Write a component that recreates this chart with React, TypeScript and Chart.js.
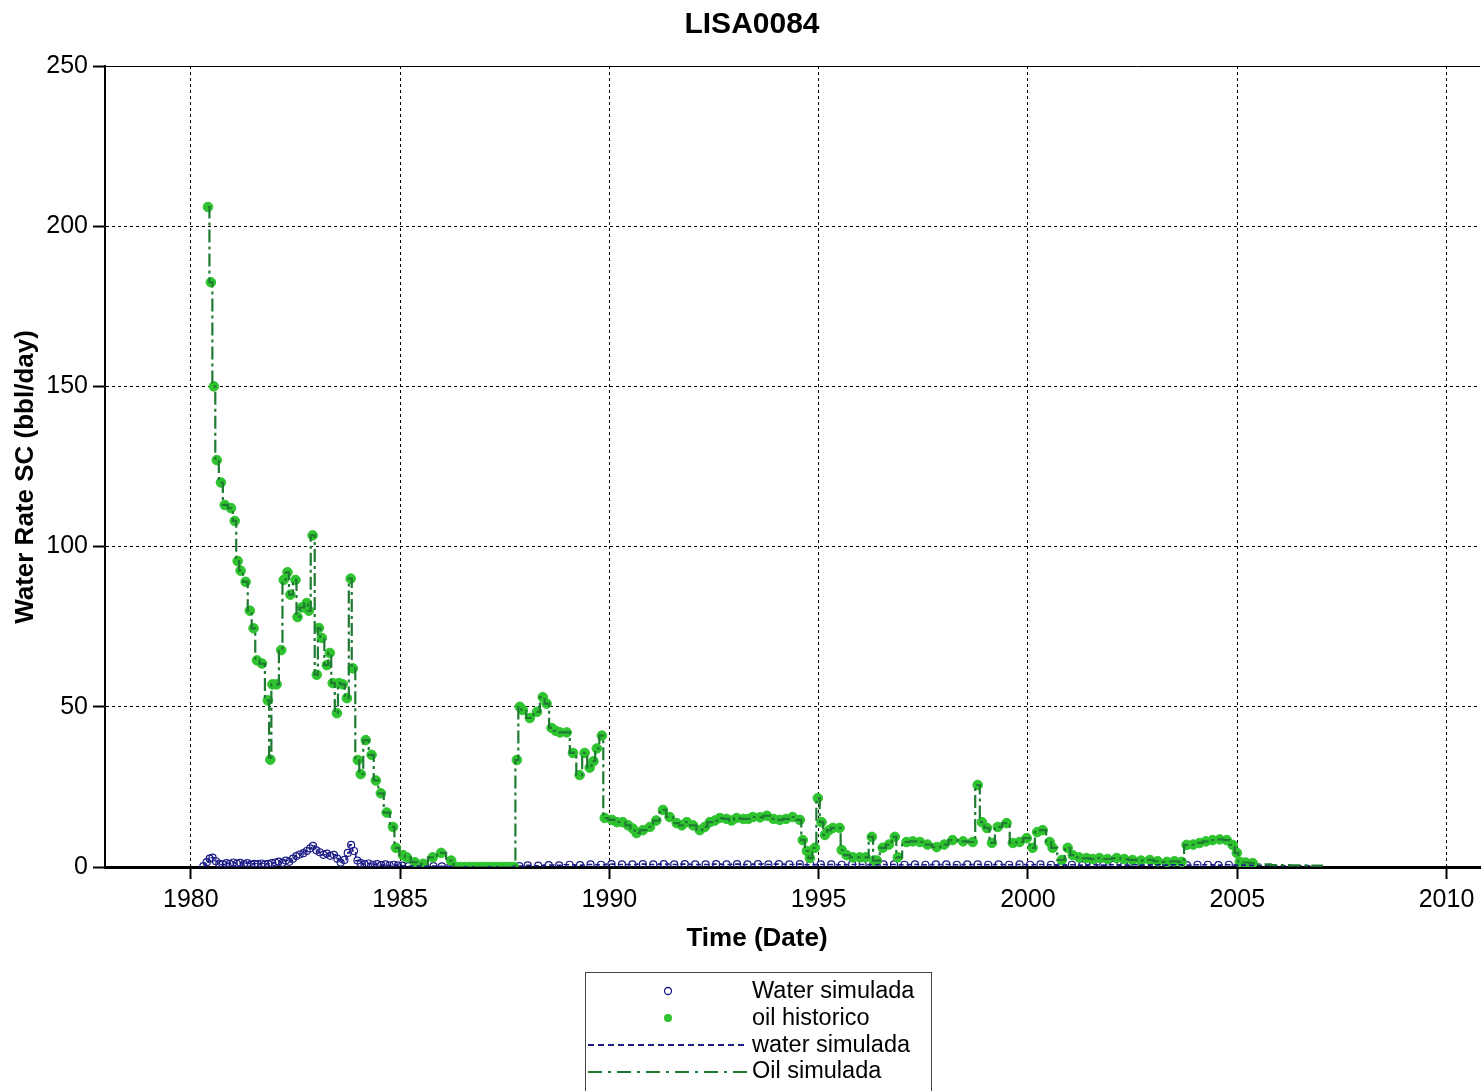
import React, { useEffect, useRef } from "react";
import { Chart, registerables } from "chart.js";

Chart.register(...registerables);

// ---------- data ----------
const chartTitle = "LISA0084";
const xAxisTitle = "Time (Date)";
const yAxisTitle = "Water Rate SC (bbl/day)";
const xTicks = [1980, 1985, 1990, 1995, 2000, 2005, 2010];
const yTicks = [0, 50, 100, 150, 200, 250];
const legendLabels = ["Water simulada", "oil historico", "water simulada", "Oil simulada"];

const oilHistYears = [
  1980.41, 1980.48, 1980.55, 1980.62, 1980.72, 1980.81, 1980.96, 1981.05, 1981.12, 1981.19,
  1981.31, 1981.41, 1981.5, 1981.58, 1981.7, 1981.84, 1981.9, 1981.95, 1982.05, 1982.16,
  1982.22, 1982.31, 1982.38, 1982.5, 1982.55, 1982.65, 1982.77, 1982.82, 1982.91, 1983.01,
  1983.06, 1983.13, 1983.25, 1983.32, 1983.39, 1983.49, 1983.54, 1983.63, 1983.73, 1983.82,
  1983.87, 1983.99, 1984.06, 1984.18, 1984.32, 1984.42, 1984.54, 1984.68, 1984.83, 1984.9,
  1985.07, 1985.16, 1985.35, 1985.55, 1985.78, 1985.98, 1986.22, 1986.35, 1986.45, 1986.55,
  1986.65, 1986.75, 1986.85, 1986.95, 1987.05, 1987.15, 1987.25, 1987.35, 1987.45, 1987.55,
  1987.65, 1987.72, 1987.79, 1987.86, 1987.93, 1988.1, 1988.27, 1988.41, 1988.5, 1988.62,
  1988.72, 1988.82, 1988.98, 1989.13, 1989.29, 1989.41, 1989.53, 1989.62, 1989.7, 1989.82,
  1989.89, 1990.06, 1990.18, 1990.32, 1990.45, 1990.56, 1990.65, 1990.8, 1990.97, 1991.12,
  1991.28, 1991.44, 1991.61, 1991.73, 1991.85, 1992.0, 1992.16, 1992.28, 1992.4, 1992.52,
  1992.64, 1992.8, 1992.92, 1993.04, 1993.2, 1993.32, 1993.43, 1993.6, 1993.76, 1993.92,
  1994.07, 1994.22, 1994.38, 1994.55, 1994.62, 1994.72, 1994.79, 1994.91, 1994.98, 1995.07,
  1995.15, 1995.25, 1995.34, 1995.5, 1995.55, 1995.67, 1995.82, 1995.98, 1996.12, 1996.27,
  1996.33, 1996.39, 1996.53, 1996.68, 1996.82, 1996.89, 1997.1, 1997.25, 1997.42, 1997.6,
  1997.82, 1998.0, 1998.2, 1998.45, 1998.68, 1998.8, 1998.9, 1999.02, 1999.14, 1999.28,
  1999.49, 1999.64, 1999.8, 1999.97, 2000.11, 2000.22, 2000.35, 2000.52, 2000.59, 2000.81,
  2000.95, 2001.07, 2001.22, 2001.4, 2001.55, 2001.71, 2001.9, 2002.12, 2002.3, 2002.5,
  2002.7, 2002.91, 2003.1, 2003.32, 2003.5, 2003.67, 2003.79, 2003.95, 2004.1, 2004.25,
  2004.41, 2004.58, 2004.75, 2004.89, 2004.99, 2005.06, 2005.2, 2005.37,
];
const oilHistRates = [
  206, 182.5, 150, 127, 120, 113, 112, 108, 95.5, 92.5,
  89, 80, 74.5, 64.5, 63.5, 52, 33.5, 57, 57, 67.7,
  89.6, 92, 85, 89.6, 78, 81, 82.4, 80, 103.5, 60,
  74.6, 71.5, 63, 66.8, 57.4, 48, 57.4, 57, 52.7, 90,
  62, 33.4, 29, 39.6, 35, 27, 23, 17, 12.5, 6,
  3.7, 3, 1.5, 1, 3, 4.4, 2, 0, 0, 0,
  0, 0, 0, 0, 0, 0, 0, 0, 0, 0,
  0, 0, 33.4, 50, 49, 46.5, 48.4, 53, 51, 43.4,
  42.5, 42, 42, 35.6, 28.7, 35.6, 31, 33, 37, 41,
  15.3, 14.7, 14, 14, 13, 12, 10.6, 11.5, 12.5, 14.5,
  17.8, 15.6, 13.7, 13, 14, 13, 11.5, 12.5, 14, 14.5,
  15.3, 15, 14.5, 15.3, 15, 15, 15.6, 15.5, 16, 15,
  14.7, 15, 15.6, 14.7, 8.4, 5, 2.8, 6, 21.5, 14,
  10, 11.5, 12.2, 12.2, 5.3, 3.7, 3, 3, 3, 9.4,
  2, 2, 6, 7, 9.4, 3, 7.8, 8, 7.8, 7,
  6.2, 7, 8.4, 8, 7.8, 25.6, 14, 12.2, 7.5, 12.5,
  13.7, 7.5, 7.8, 9, 6, 10.9, 11.5, 7.8, 6, 2.2,
  6, 3.7, 3, 2.8, 2.5, 2.8, 2.5, 2.8, 2.5, 2.2,
  2, 2.2, 1.8, 1.6, 1.8, 1.6, 6.9, 7, 7.5, 8,
  8.4, 8.6, 8.4, 6.9, 4.4, 1.6, 1.4, 1.2,
];
// simulated oil continues past the end of the history with these points
const oilSimTailYears = [2005.6, 2006.0, 2006.5, 2007.05];
const oilSimTailRates = [0.8, 0.6, 0.5, 0.4];

const waterYears = [
  1980.3, 1980.38, 1980.45, 1980.52, 1980.6, 1980.68, 1980.76, 1980.85, 1980.93, 1981.02,
  1981.1, 1981.18, 1981.27, 1981.35, 1981.44, 1981.52, 1981.6, 1981.69, 1981.77, 1981.85,
  1981.94, 1982.02, 1982.1, 1982.19, 1982.27, 1982.35, 1982.44, 1982.52, 1982.6, 1982.69,
  1982.77, 1982.85, 1982.92, 1983.0, 1983.08, 1983.17, 1983.25, 1983.33, 1983.42, 1983.5,
  1983.58, 1983.67, 1983.75, 1983.83, 1983.9, 1983.98, 1984.06, 1984.15, 1984.25, 1984.35,
  1984.45, 1984.55, 1984.65, 1984.75, 1984.85, 1984.95, 1985.05, 1985.2, 1985.4, 1985.6,
  1985.8, 1986.0, 1986.2, 1986.4, 1986.7, 1987.0, 1987.3, 1987.6, 1987.85, 1988.05,
  1988.3, 1988.55, 1988.8, 1989.05, 1989.3, 1989.55, 1989.8, 1990.05, 1990.3, 1990.55,
  1990.8, 1991.05, 1991.3, 1991.55, 1991.8, 1992.05, 1992.3, 1992.55, 1992.8, 1993.05,
  1993.3, 1993.55, 1993.8, 1994.05, 1994.3, 1994.55, 1994.8, 1995.05, 1995.3, 1995.55,
  1995.8, 1996.05, 1996.3, 1996.55, 1996.8, 1997.05, 1997.3, 1997.55, 1997.8, 1998.05,
  1998.3, 1998.55, 1998.8, 1999.05, 1999.3, 1999.55, 1999.8, 2000.05, 2000.3, 2000.55,
  2000.8, 2001.05, 2001.3, 2001.55, 2001.8, 2002.05, 2002.3, 2002.55, 2002.8, 2003.05,
  2003.3, 2003.55, 2003.8, 2004.05, 2004.3, 2004.55, 2004.8, 2005.05, 2005.3,
];
const waterRates = [
  0.3, 1.5, 2.6, 2.9, 1.8, 1.0, 0.8, 1.2, 1.0, 1.4,
  1.1, 1.3, 0.9, 1.2, 0.8, 1.0, 0.9, 1.1, 0.8, 1.0,
  1.2, 1.4, 1.7, 1.3, 2.0, 1.6, 2.6, 3.4, 3.9, 4.3,
  5.0, 5.8, 6.6, 5.2, 4.6, 3.8, 4.2, 3.5, 3.8, 2.6,
  1.4, 2.2, 4.4, 6.9, 5.0, 2.0, 1.2, 0.9, 1.1, 0.7,
  0.9, 0.6, 0.8, 0.5, 0.7, 0.5, 0.4, 0.3, 0.3, 0.2,
  0.3, 0.2, 0.2, 0.1, 0.1, 0.1, 0.1, 0.1, 0.3, 0.5,
  0.4, 0.6, 0.5, 0.7, 0.6, 0.8, 0.7, 0.9, 0.8, 0.8,
  0.9, 0.8, 0.9, 0.8, 0.9, 0.8, 0.8, 0.9, 0.8, 0.9,
  0.8, 0.9, 0.8, 0.9, 0.8, 0.9, 0.7, 0.8, 0.8, 0.7,
  0.8, 0.8, 0.7, 0.8, 0.8, 0.7, 0.8, 0.7, 0.8, 0.8,
  0.7, 0.8, 0.8, 0.7, 0.8, 0.7, 0.8, 0.7, 0.8, 0.7,
  0.6, 0.7, 0.6, 0.7, 0.6, 0.7, 0.6, 0.7, 0.6, 0.7,
  0.6, 0.7, 0.6, 0.7, 0.7, 0.6, 0.7, 0.6, 0.5,
];
const waterSimTailYears = [2005.6, 2006.0, 2006.5, 2007.0];
const waterSimTailRates = [0.5, 0.4, 0.4, 0.3];

// ---------- styling ----------
const FONT = '"Liberation Sans", Arial, Helvetica, sans-serif';
const NAVY = "#1c1c86";
const GREEN = "#2fc42f";
const DARK_GREEN = "#1f7a32";

const pts = (xs: number[], ys: number[]) => xs.map((x, i) => ({ x, y: ys[i] }));

const decorPlugin = {
  id: "decor",
  afterDraw(chart: any) {
    const ctx: CanvasRenderingContext2D = chart.ctx;
    const { left, right, top } = chart.chartArea;
    ctx.save();
    // solid top frame
    ctx.setLineDash([]);
    ctx.strokeStyle = "#000";
    ctx.lineWidth = 1;
    ctx.beginPath();
    ctx.moveTo(left, top + 0.5);
    ctx.lineTo(right, top + 0.5);
    ctx.stroke();

    ctx.fillStyle = "#000";
    ctx.textAlign = "center";
    ctx.textBaseline = "middle";
    ctx.font = `bold 30px ${FONT}`;
    ctx.fillText(chartTitle, 752, 25);
    ctx.font = `bold 26px ${FONT}`;
    ctx.fillText(xAxisTitle, 757, 939);
    ctx.save();
    ctx.translate(26, 477);
    ctx.rotate(-Math.PI / 2);
    ctx.fillText(yAxisTitle, 0, 0);
    ctx.restore();

    // legend
    const bx = 585.5, by = 972.5, bw = 346, bh = 130;
    ctx.strokeStyle = "#444";
    ctx.lineWidth = 1;
    ctx.strokeRect(bx, by, bw, bh);
    const rows = [992, 1019, 1046, 1072];
    ctx.textAlign = "left";
    ctx.font = `23.5px ${FONT}`;
    ctx.fillStyle = "#000";
    rows.forEach((ry, i) => ctx.fillText(legendLabels[i], 752, ry));

    // row 1: open circle
    ctx.strokeStyle = NAVY;
    ctx.lineWidth = 1.3;
    ctx.beginPath();
    ctx.arc(668, rows[0] - 1, 3.5, 0, Math.PI * 2);
    ctx.stroke();
    // row 2: filled circle
    ctx.fillStyle = GREEN;
    ctx.beginPath();
    ctx.arc(668, rows[1] - 1, 4, 0, Math.PI * 2);
    ctx.fill();
    // row 3: dashed navy
    ctx.strokeStyle = NAVY;
    ctx.lineWidth = 2;
    ctx.setLineDash([6, 4]);
    ctx.beginPath();
    ctx.moveTo(588, rows[2] - 1);
    ctx.lineTo(748, rows[2] - 1);
    ctx.stroke();
    // row 4: dash-dot green
    ctx.strokeStyle = DARK_GREEN;
    ctx.setLineDash([14, 6, 3, 6]);
    ctx.beginPath();
    ctx.moveTo(588, rows[3]);
    ctx.lineTo(748, rows[3]);
    ctx.stroke();
    ctx.restore();
  },
};

export default function App() {
  const ref = useRef<HTMLCanvasElement | null>(null);

  useEffect(() => {
    document.body.style.margin = "0";
    const canvas = ref.current;
    if (!canvas) return;

    const oilSim = pts([...oilHistYears, ...oilSimTailYears], [...oilHistRates, ...oilSimTailRates]);
    const waterSim = pts([...waterYears, ...waterSimTailYears], [...waterRates, ...waterSimTailRates]);

    const chart = new Chart(canvas, {
      type: "scatter",
      data: {
        datasets: [
          {
            label: legendLabels[0],
            data: pts(waterYears, waterRates),
            showLine: false,
            pointStyle: "circle",
            pointRadius: 3.5,
            pointBorderWidth: 1.2,
            pointBorderColor: NAVY,
            pointBackgroundColor: "rgba(255,255,255,0)",
            order: 3,
          },
          {
            label: legendLabels[1],
            data: pts(oilHistYears, oilHistRates),
            showLine: false,
            pointRadius: 4.8,
            pointBorderWidth: 1,
            pointBorderColor: GREEN,
            pointBackgroundColor: GREEN,
            order: 2,
          },
          {
            label: legendLabels[2],
            data: waterSim,
            showLine: true,
            stepped: "middle",
            pointRadius: 0,
            borderColor: NAVY,
            borderWidth: 1.6,
            borderDash: [5, 3],
            order: 1,
          },
          {
            label: legendLabels[3],
            data: oilSim,
            showLine: true,
            stepped: "middle",
            pointRadius: 0,
            borderColor: DARK_GREEN,
            borderWidth: 2.2,
            borderDash: [13, 4, 3, 4],
            order: 0,
          },
        ],
      } as any,
      options: {
        animation: false,
        responsive: false,
        maintainAspectRatio: false,
        events: [],
        layout: { autoPadding: false, padding: { top: 66, left: 0, right: 1, bottom: 174 } },
        plugins: {
          legend: { display: false },
          title: { display: false },
          tooltip: { enabled: false },
        },
        scales: {
          x: {
            type: "linear",
            min: 1977.95,
            max: 2010.8,
            afterBuildTicks: (scale: any) => {
              scale.ticks = xTicks.map((v) => ({ value: v }));
            },
            afterFit: (scale: any) => {
              scale.height = 50;
              scale.paddingLeft = 0;
              scale.paddingRight = 0;
            },
            ticks: {
              includeBounds: false,
              color: "#000",
              font: { family: FONT, size: 25 },
              padding: 6,
              maxRotation: 0,
              autoSkip: false,
              callback: (v: any) => String(v),
            },
            grid: {
              color: "#000",
              lineWidth: 1,
              tickLength: 12,
              tickWidth: 2,
              tickColor: "#000",
              tickBorderDash: [],
            },
            border: { display: true, color: "#000", width: 3, dash: [3, 3] },
          },
          y: {
            type: "linear",
            min: 0,
            max: 250,
            afterBuildTicks: (scale: any) => {
              scale.ticks = yTicks.map((v) => ({ value: v }));
            },
            afterFit: (scale: any) => {
              scale.width = 105;
              scale.paddingTop = 0;
              scale.paddingBottom = 0;
            },
            ticks: {
              color: "#000",
              font: { family: FONT, size: 25 },
              padding: 5,
              autoSkip: false,
              callback: (v: any) => String(v),
            },
            grid: {
              color: "#000",
              lineWidth: 1,
              tickLength: 12,
              tickWidth: 2,
              tickColor: "#000",
              tickBorderDash: [],
            },
            border: { display: true, color: "#000", width: 2, dash: [3, 3] },
          },
        },
      } as any,
      plugins: [decorPlugin],
    });

    return () => chart.destroy();
  }, []);

  return (
    <div style={{ width: 1481, height: 1091, background: "#fff" }}>
      <canvas ref={ref} width={1481} height={1091} style={{ display: "block" }} />
    </div>
  );
}
